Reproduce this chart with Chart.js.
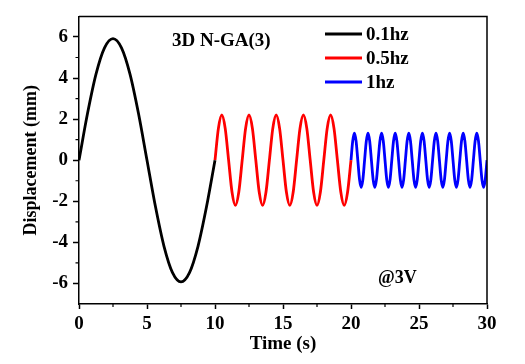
<!DOCTYPE html>
<html><head><meta charset="utf-8">
<script src="https://cdn.jsdelivr.net/npm/chart.js@4"></script>
<style>html,body{margin:0;padding:0;background:#fff}</style>
</head><body>
<canvas id="c" width="525" height="364"></canvas>
<script>
const seriesLabels = ['0.1hz', '0.5hz', '1hz'];
const seriesColors = ['#000000', '#ff0000', '#0000ff'];

const time01 = [0, 0.625, 1.25, 1.875, 2.5, 3.125, 3.75, 4.375, 5, 5.625, 6.25, 6.875, 7.5, 8.125, 8.75, 9.375, 10];
const disp01 = [0, 2.27, 4.19, 5.47, 5.92, 5.47, 4.19, 2.27, 0, -2.27, -4.19, -5.47, -5.92, -5.47, -4.19, -2.27, 0];

const time05 = [10, 10.25, 10.5, 10.75, 11, 11.25, 11.5, 11.75, 12, 12.25, 12.5, 12.75, 13, 13.25, 13.5, 13.75,
  14, 14.25, 14.5, 14.75, 15, 15.25, 15.5, 15.75, 16, 16.25, 16.5, 16.75, 17, 17.25, 17.5, 17.75,
  18, 18.25, 18.5, 18.75, 19, 19.25, 19.5, 19.75, 20];
const disp05 = [0, 1.55, 2.2, 1.55, 0, -1.55, -2.2, -1.55, 0, 1.55, 2.2, 1.55, 0, -1.55, -2.2, -1.55,
  0, 1.55, 2.2, 1.55, 0, -1.55, -2.2, -1.55, 0, 1.55, 2.2, 1.55, 0, -1.55, -2.2, -1.55,
  0, 1.55, 2.2, 1.55, 0, -1.55, -2.2, -1.55, 0];

const time1 = [20, 20.125, 20.25, 20.375, 20.5, 20.625, 20.75, 20.875,
  21, 21.125, 21.25, 21.375, 21.5, 21.625, 21.75, 21.875,
  22, 22.125, 22.25, 22.375, 22.5, 22.625, 22.75, 22.875,
  23, 23.125, 23.25, 23.375, 23.5, 23.625, 23.75, 23.875,
  24, 24.125, 24.25, 24.375, 24.5, 24.625, 24.75, 24.875,
  25, 25.125, 25.25, 25.375, 25.5, 25.625, 25.75, 25.875,
  26, 26.125, 26.25, 26.375, 26.5, 26.625, 26.75, 26.875,
  27, 27.125, 27.25, 27.375, 27.5, 27.625, 27.75, 27.875,
  28, 28.125, 28.25, 28.375, 28.5, 28.625, 28.75, 28.875,
  29, 29.125, 29.25, 29.375, 29.5, 29.625, 29.75, 29.875, 30];
const disp1 = [0, 0.93, 1.32, 0.93, 0, -0.93, -1.32, -0.93,
  0, 0.93, 1.32, 0.93, 0, -0.93, -1.32, -0.93,
  0, 0.93, 1.32, 0.93, 0, -0.93, -1.32, -0.93,
  0, 0.93, 1.32, 0.93, 0, -0.93, -1.32, -0.93,
  0, 0.93, 1.32, 0.93, 0, -0.93, -1.32, -0.93,
  0, 0.93, 1.32, 0.93, 0, -0.93, -1.32, -0.93,
  0, 0.93, 1.32, 0.93, 0, -0.93, -1.32, -0.93,
  0, 0.93, 1.32, 0.93, 0, -0.93, -1.32, -0.93,
  0, 0.93, 1.32, 0.93, 0, -0.93, -1.32, -0.93,
  0, 0.93, 1.32, 0.93, 0, -0.93, -1.32, -0.93, 0];

const xTicks = [0, 5, 10, 15, 20, 25, 30];
const yTicks = [-6, -4, -2, 0, 2, 4, 6];
const xMinorTicks = [2.5, 7.5, 12.5, 17.5, 22.5, 27.5];
const yMinorTicks = [-5, -3, -1, 1, 3, 5];

const xTitle = 'Time (s)';
const yTitle = 'Displacement (mm)';
const sampleText = '3D N-GA(3)';
const voltText = '@3V';

const FONT = '"Liberation Serif", "Times New Roman", serif';

function pts(xs, ys) { return xs.map((x, i) => ({ x: x, y: ys[i] })); }

const decor = {
  id: 'decor',
  afterDraw(chart) {
    const ctx = chart.ctx;
    const a = chart.chartArea;
    const xs = chart.scales.x, ys = chart.scales.y;
    ctx.save();
    ctx.strokeStyle = '#000';
    ctx.lineWidth = 1.5;
    ctx.beginPath();
    ctx.moveTo(a.left, a.top); ctx.lineTo(a.right, a.top); ctx.lineTo(a.right, a.bottom);
    ctx.stroke();
    ctx.lineWidth = 1.2;
    ctx.beginPath();
    xMinorTicks.forEach(v => { const p = xs.getPixelForValue(v); ctx.moveTo(p, a.bottom); ctx.lineTo(p, a.bottom + 3); });
    yMinorTicks.forEach(v => { const p = ys.getPixelForValue(v); ctx.moveTo(a.left, p); ctx.lineTo(a.left - 3.5, p); });
    ctx.stroke();
    const legY = [34, 58, 82];
    ctx.font = 'bold 19px ' + FONT;
    ctx.textBaseline = 'middle';
    ctx.textAlign = 'left';
    seriesLabels.forEach((lab, i) => {
      ctx.strokeStyle = seriesColors[i];
      ctx.lineWidth = 2.8;
      ctx.beginPath(); ctx.moveTo(325, legY[i]); ctx.lineTo(362, legY[i]); ctx.stroke();
      ctx.fillStyle = '#000';
      ctx.fillText(lab, 366, legY[i] + 1);
    });
    ctx.textBaseline = 'alphabetic';
    ctx.font = 'bold 19px ' + FONT;
    ctx.fillText(sampleText, 172, 46);
    ctx.font = 'bold 18px ' + FONT;
    ctx.fillText(voltText, 378, 283);
    ctx.restore();
  }
};

new Chart(document.getElementById('c'), {
  type: 'line',
  data: {
    datasets: [
      { label: seriesLabels[0], data: pts(time01, disp01), borderColor: seriesColors[0] },
      { label: seriesLabels[1], data: pts(time05, disp05), borderColor: seriesColors[1] },
      { label: seriesLabels[2], data: pts(time1, disp1), borderColor: seriesColors[2] }
    ]
  },
  options: {
    responsive: false,
    animation: false,
    devicePixelRatio: 1,
    layout: { padding: { left: 0, top: 13, right: 38, bottom: 0 } },
    elements: {
      point: { radius: 0 },
      line: { borderWidth: 2.8, cubicInterpolationMode: 'monotone', fill: false }
    },
    plugins: { legend: { display: false }, tooltip: { enabled: false } },
    scales: {
      x: {
        type: 'linear', min: 0, max: 30,
        afterBuildTicks: s => { s.ticks = xTicks.map(v => ({ value: v })); },
        afterFit: s => { s.height = 60; },
        grid: { drawOnChartArea: false, drawTicks: true, tickLength: 5, tickColor: '#000', tickWidth: 1.5 },
        border: { display: true, color: '#000', width: 1.5 },
        ticks: { autoSkip: false, maxRotation: 0, padding: 4, color: '#000', font: { family: FONT, size: 19, weight: 'bold' } },
        title: { display: true, text: xTitle, color: '#000', padding: { top: 0, bottom: 9 }, font: { family: FONT, size: 19, weight: 'bold' } }
      },
      y: {
        type: 'linear', min: -7, max: 7,
        afterBuildTicks: s => { s.ticks = yTicks.map(v => ({ value: v })); },
        afterFit: s => { s.width = 79; },
        grid: { drawOnChartArea: false, drawTicks: true, tickLength: 6, tickColor: '#000', tickWidth: 1.5 },
        border: { display: true, color: '#000', width: 1.5 },
        ticks: { autoSkip: false, padding: 5, color: '#000', font: { family: FONT, size: 19, weight: 'bold' } },
        title: { display: true, text: yTitle, color: '#000', padding: { top: 21, bottom: 0 }, font: { family: FONT, size: 18, weight: 'bold' } }
      }
    }
  },
  plugins: [decor]
});
</script>
</body></html>
